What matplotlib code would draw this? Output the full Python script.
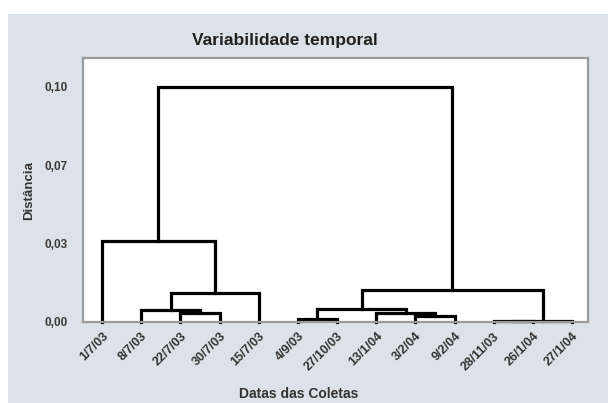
import matplotlib
matplotlib.use("Agg")
import matplotlib.pyplot as plt
from matplotlib.patches import Rectangle

# Data
leaf_labels = ["1/7/03", "8/7/03", "22/7/03", "30/7/03", "15/7/03", "4/9/03",
               "27/10/03", "13/1/04", "3/2/04", "9/2/04", "28/11/03", "26/1/04", "27/1/04"]
# merges: (left cluster id, right cluster id, height); new ids start at len(leaf_labels)
merge_left = [10, 13, 5, 8, 2, 7, 1, 15, 19, 20, 0, 23]
merge_right = [11, 12, 6, 9, 3, 16, 17, 18, 4, 14, 21, 22]
merge_height = [0.0003, 0.0006, 0.0013, 0.0026, 0.0038, 0.0038, 0.0051, 0.0055,
                0.0123, 0.0136, 0.0344, 0.100]
ytick_vals = [0.0, 0.1 / 3, 0.2 / 3, 0.1]
ytick_labels = ["0,00", "0,03", "0,07", "0,10"]

W, H = 608, 403
fig = plt.figure(figsize=(W / 100, H / 100), dpi=100)
fig.patch.set_facecolor("white")
bg = "#dce2e9"
fig.patches.append(Rectangle((8 / W, 0), 1, 1 - 14 / H, transform=fig.transFigure,
                             facecolor=bg, edgecolor="none", zorder=-10))

ax = fig.add_axes([83 / W, 1 - 322 / H, (588 - 83) / W, (322 - 58) / H])
ax.set_facecolor("white")

n = len(leaf_labels)
xpos = {i: float(i) for i in range(n)}
hpos = {i: 0.0 for i in range(n)}
for k, (a, b, h) in enumerate(zip(merge_left, merge_right, merge_height)):
    xa, xb = xpos[a], xpos[b]
    ax.plot([xa, xa, xb, xb], [hpos[a], h, h, hpos[b]], color="black",
            lw=2.3, solid_joinstyle="miter", solid_capstyle="projecting", clip_on=False)
    cid = n + k
    xpos[cid] = (xa + xb) / 2
    hpos[cid] = h

ax.set_xlim(-0.49, 12.41)
ax.set_ylim(0, 0.1122)

ax.set_xticks(range(n))
ax.set_xticklabels(leaf_labels, rotation=45, ha="right", va="top",
                   rotation_mode="anchor", fontsize=9, fontweight="bold", color="#333333",
                   fontfamily="Liberation Sans")
ax.set_yticks(ytick_vals)
ax.set_yticklabels(ytick_labels, fontsize=8.5, fontweight="bold", color="#3a3a3a",
                   fontfamily="Liberation Sans")
ax.tick_params(axis="both", length=0)
ax.tick_params(axis="y", pad=11)
ax.tick_params(axis="x", pad=6)

for s in ax.spines.values():
    s.set_color("#9a9a9a")
    s.set_linewidth(1.6)

ax.set_ylabel("Distância", fontsize=9.5, fontweight="bold", color="#333333",
              fontfamily="Liberation Sans", labelpad=7)
fig.text(299 / W, 1 - 394 / H, "Datas das Coletas", ha="center", va="center",
         fontsize=10, fontweight="bold", color="#333333", fontfamily="Liberation Sans")
fig.text(285 / W, 1 - 40 / H, "Variabilidade temporal", ha="center", va="center",
         fontsize=12.5, fontweight="bold", color="#222222", fontfamily="Liberation Sans")

fig.savefig("out.png", dpi=100, facecolor=fig.get_facecolor())
